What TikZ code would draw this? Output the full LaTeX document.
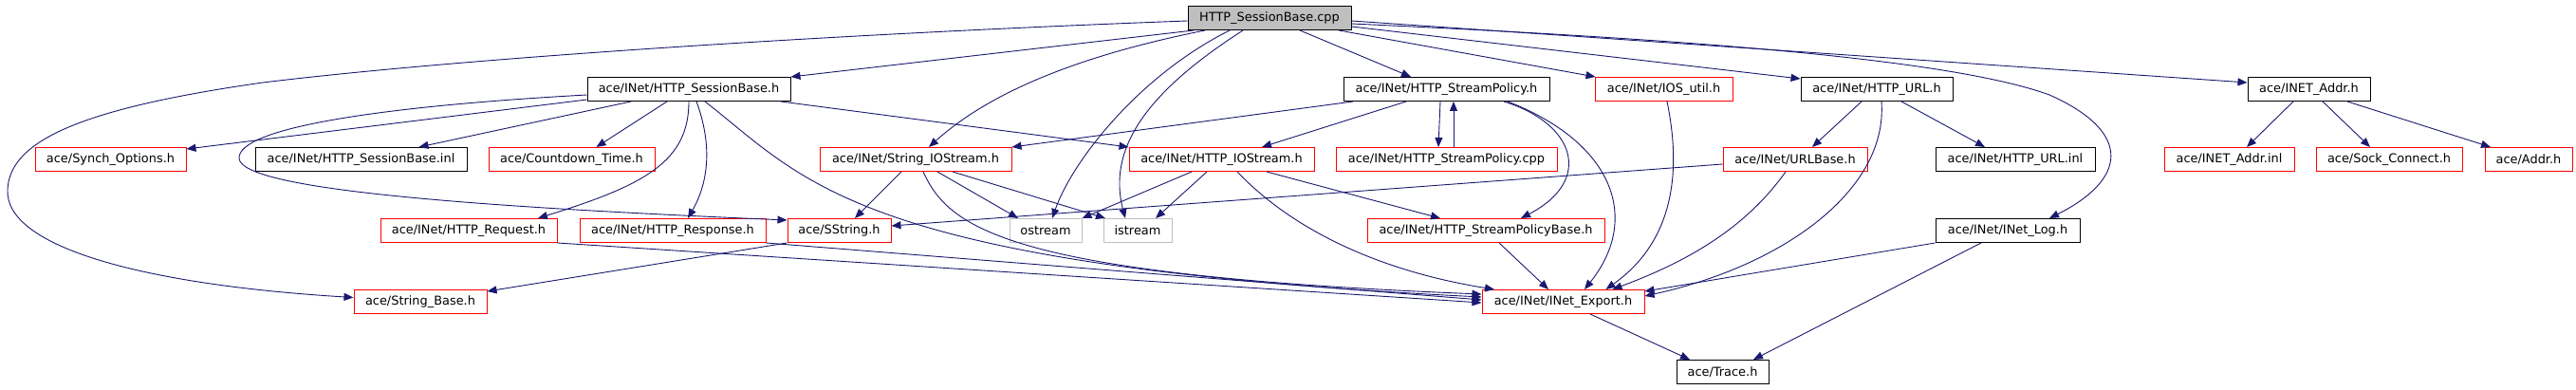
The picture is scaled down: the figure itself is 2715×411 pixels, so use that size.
\documentclass[tikz,border=0pt]{standalone}
\usepackage{fontspec}
\setmainfont{DejaVu Sans}
\usetikzlibrary{arrows.meta}
\definecolor{edgec}{HTML}{191970}
\definecolor{truncc}{HTML}{FF0000}
\definecolor{grayb}{HTML}{BFBFBF}
\begin{document}
\begin{tikzpicture}[x=1pt,y=-1pt,
  box/.style={rectangle,line width=1pt,minimum height=25pt,inner sep=0pt,font=\fontsize{12.9}{15}\selectfont},
  plainbox/.style={box,draw=black},
  truncbox/.style={box,draw=truncc},
  sysbox/.style={box,draw=grayb},
  rootbox/.style={box,draw=black,fill=grayb},
  link/.style={draw=edgec,line width=0.9pt,-{Triangle[length=10pt,width=8pt]}}
]
\fill[white] (0,0) rectangle (2715,411);
\useasboundingbox (0,0) rectangle (2715,411);

% nodes
\node[rootbox,minimum width=172pt] (root) at (1338,19) {HTTP\_SessionBase.cpp};
\node[plainbox,minimum width=214pt] (sbh) at (726,94) {ace/INet/HTTP\_SessionBase.h};
\node[plainbox,minimum width=217pt] (sph) at (1524.5,94) {ace/INet/HTTP\_StreamPolicy.h};
\node[truncbox,minimum width=145pt] (ios) at (1753.5,94) {ace/INet/IOS\_util.h};
\node[plainbox,minimum width=160pt] (urlh) at (1978,94) {ace/INet/HTTP\_URL.h};
\node[plainbox,minimum width=129pt] (inetaddr) at (2433.5,94) {ace/INET\_Addr.h};

\node[truncbox,minimum width=159pt] (synch) at (116.5,168) {ace/Synch\_Options.h};
\node[plainbox,minimum width=223pt] (sbinl) at (380.5,168) {ace/INet/HTTP\_SessionBase.inl};
\node[truncbox,minimum width=175pt] (countdown) at (602.5,168) {ace/Countdown\_Time.h};
\node[truncbox,minimum width=202pt] (sio) at (965,168) {ace/INet/String\_IOStream.h};
\node[truncbox,minimum width=195pt] (hio) at (1287.5,168) {ace/INet/HTTP\_IOStream.h};
\node[truncbox,minimum width=233pt] (spcpp) at (1524.5,168) {ace/INet/HTTP\_StreamPolicy.cpp};
\node[truncbox,minimum width=152pt] (urlbase) at (1892,168) {ace/INet/URLBase.h};
\node[plainbox,minimum width=168pt] (urlinl) at (2124,168) {ace/INet/HTTP\_URL.inl};
\node[truncbox,minimum width=137pt] (inetinl) at (2349.5,168) {ace/INET\_Addr.inl};
\node[truncbox,minimum width=154pt] (sock) at (2518,168) {ace/Sock\_Connect.h};
\node[truncbox,minimum width=92pt] (addr) at (2665,168) {ace/Addr.h};

\node[truncbox,minimum width=186pt] (request) at (494,243) {ace/INet/HTTP\_Request.h};
\node[truncbox,minimum width=196pt] (response) at (709,243) {ace/INet/HTTP\_Response.h};
\node[truncbox,minimum width=109pt] (sstring) at (884.5,243) {ace/SString.h};
\node[sysbox,minimum width=76pt] (ostream) at (1102,243) {ostream};
\node[sysbox,minimum width=72pt] (istream) at (1199,243) {istream};
\node[truncbox,minimum width=250pt] (spbase) at (1566,243) {ace/INet/HTTP\_StreamPolicyBase.h};
\node[plainbox,minimum width=152pt] (inetlog) at (2116,243) {ace/INet/INet\_Log.h};

\node[truncbox,minimum width=140pt] (stringbase) at (443,318) {ace/String\_Base.h};
\node[truncbox,minimum width=171pt] (inetexp) at (1647.5,318) {ace/INet/INet\_Export.h};

\node[plainbox,minimum width=97pt] (trace) at (1815.5,392) {ace/Trace.h};

% edges from root
\draw[link] ([yshift=-3]root.west) .. controls (900,35) and (500,60) .. (277,87)
   .. controls (80,115) and (10,150) .. (8,200)
   .. controls (5,260) and (150,300) .. ([yshift=4.5]stringbase.west);
\draw[link] ([xshift=-80]root.south) -- (sbh.north east);
\draw[link] ([xshift=-68]root.south) .. controls (1130,60) and (1040,100) .. ([xshift=14]sio.north);
\draw[link] ([xshift=-42]root.south) .. controls (1200,80) and (1130,170) .. ([xshift=7]ostream.north);
\draw[link] ([xshift=-28]root.south) .. controls (1220,90) and (1165,150) .. ([xshift=-13]istream.north);
\draw[link] ([xshift=32]root.south) -- ([xshift=-37.5]sph.north);
\draw[link] ([xshift=73]root.south) -- ([xshift=1]ios.north west);
\draw[link] ([yshift=-9]root.east) -- ([yshift=-2]urlh.north west);
\draw[link] ([yshift=-3]root.east) -- ([yshift=7]inetaddr.west);
\draw[link] ([yshift=-6]root.east) .. controls (1750,40) and (2050,60) .. (2160,100)
   .. controls (2250,140) and (2240,190) .. ([xshift=44]inetlog.north);

% edges from HTTP_SessionBase.h
\draw[link] ([yshift=-11]sbh.west) -- ([yshift=-2]synch.north east);
\draw[link] ([xshift=-61]sbh.south) -- ([xshift=61]sbinl.north);
\draw[link] ([xshift=-23]sbh.south) -- ([xshift=26]countdown.north);
\draw[link] (sbh.south) .. controls (726,170) and (680,195) .. ([xshift=73]request.north);
\draw[link] ([xshift=8]sbh.south) .. controls (750,150) and (748,190) .. ([xshift=16]response.north);
\draw[link] ([yshift=-6]sbh.west) .. controls (400,112) and (250,135) .. (252,167)
   .. controls (255,200) and (500,218) .. ([yshift=-2]sstring.north west);
\draw[link] ([xshift=17]sbh.south) .. controls (850,190) and (900,280) .. ([yshift=5]inetexp.west);
\draw[link] ([xshift=97]sbh.south) -- (hio.north west);

% edges from HTTP_StreamPolicy.h
\draw[link] ([xshift=-98.5]sph.south) -- (sio.north east);
\draw[link] ([xshift=-42.5]sph.south) -- ([xshift=42.5]hio.north);
\draw[link] ([xshift=-6.5]sph.south) -- ([xshift=-8.5]spcpp.north);
\draw[link] ([xshift=7.5]spcpp.north) -- ([xshift=7.5]sph.south);
\draw[link] ([xshift=60.5]sph.south) .. controls (1660,130) and (1680,190) .. ([xshift=37]spbase.north);
\draw[link] ([xshift=64.5]sph.south) .. controls (1700,150) and (1730,230) .. ([xshift=22.5]inetexp.north);

% IOS_util.h
\draw[link] ([xshift=3.5]ios.south) .. controls (1770,170) and (1770,250) .. ([xshift=45]inetexp.north);

% HTTP_URL.h
\draw[link] ([xshift=-16]urlh.south) -- ([xshift=18]urlbase.north);
\draw[link] ([xshift=5]urlh.south) .. controls (1990,200) and (1880,280) .. ([yshift=6]inetexp.east);
\draw[link] ([xshift=26]urlh.south) -- ([xshift=-32]urlinl.north);

% INET_Addr.h
\draw[link] ([xshift=-16.5]inetaddr.south) -- ([xshift=18.5]inetinl.north);
\draw[link] ([xshift=14.5]inetaddr.south) -- ([xshift=-20]sock.north);
\draw[link] ([xshift=40.5]inetaddr.south) -- ([xshift=-40]addr.north);

% String_IOStream.h
\draw[link] ([xshift=-15]sio.south) -- ([xshift=16.5]sstring.north);
\draw[link] ([xshift=23]sio.south) -- ([xshift=-29]ostream.north);
\draw[link] ([xshift=39]sio.south) -- ([xshift=-34]istream.north);
\draw[link] ([xshift=8]sio.south) .. controls (1000,240) and (1060,290) .. ([yshift=8]inetexp.west);

% HTTP_IOStream.h
\draw[link] ([xshift=-31.5]hio.south) -- (ostream.north east);
\draw[link] ([xshift=-15.5]hio.south) -- ([xshift=19]istream.north);
\draw[link] ([xshift=16.5]hio.south) .. controls (1360,240) and (1450,285) .. ([xshift=-72.5]inetexp.north);
\draw[link] ([xshift=47.5]hio.south) -- ([xshift=-48]spbase.north);

% URLBase.h
\draw[link] ([yshift=-5]urlbase.west) -- ([yshift=5]sstring.east);
\draw[link] ([xshift=-10]urlbase.south) .. controls (1840,240) and (1780,275) .. ([xshift=52]inetexp.north);

% row 3
\draw[link] (request.south east) -- ([yshift=-1]inetexp.west);
\draw[link] (response.south east) -- ([yshift=2]inetexp.west);
\draw[link] (sstring.south west) -- ([yshift=-2]stringbase.north east);
\draw[link] ([xshift=14]spbase.south) -- ([xshift=-15.5]inetexp.north);
\draw[link] (inetlog.south west) -- ([yshift=11]inetexp.east);
\draw[link] ([xshift=-28]inetlog.south) -- ([xshift=32.5]trace.north);

% row 4
\draw[link] ([xshift=28.5]inetexp.south) -- ([xshift=-34.5]trace.north);
\end{tikzpicture}
\end{document}
